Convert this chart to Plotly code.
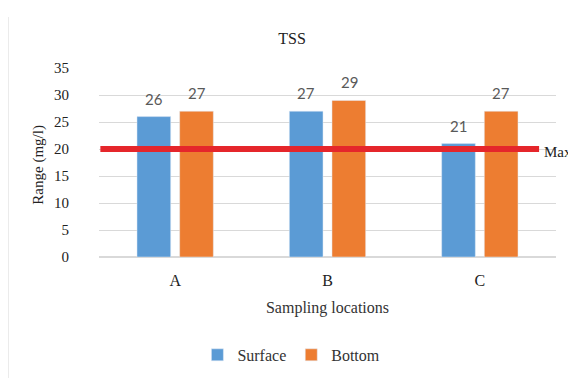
import plotly.graph_objects as go

locations = ["A", "B", "C"]
surface = [26, 27, 21]
bottom = [27, 29, 27]
max_limit = 20
y_ticks = [0, 5, 10, 15, 20, 25, 30, 35]

serif = "Liberation Serif, Times New Roman, serif"
sans = "Lato, Carlito, Liberation Sans, sans-serif"

fig = go.Figure()
fig.add_trace(go.Bar(x=locations, y=surface, name="Surface", marker_color="#5b9bd5"))
fig.add_trace(go.Bar(x=locations, y=bottom, name="Bottom", marker_color="#ed7d31"))

# data labels above the bars (offset to the two bars of each group)
for vals, shift in ((surface, -21.5), (bottom, 21.5)):
    for loc, v in zip(locations, vals):
        fig.add_annotation(x=loc, y=v, text=str(v), showarrow=False, xshift=shift,
                           yshift=18, yanchor="middle",
                           font=dict(family=sans, size=15, color="#595959"))

fig.add_shape(type="line", xref="paper", yref="y", x0=0.003, x1=0.963,
              y0=max_limit, y1=max_limit, line=dict(color="#e5262b", width=6))
fig.add_annotation(xref="paper", yref="y", x=0.969, y=max_limit, text="Max",
                   showarrow=False, xanchor="left", yanchor="middle", yshift=-3,
                   font=dict(family=serif, size=15, color="#222222"))
fig.add_shape(type="line", xref="paper", yref="paper", x0=-0.199, x1=-0.199,
              y0=-0.66, y1=1.27, line=dict(color="#e6e6e6", width=1.5))
fig.add_annotation(xref="paper", yref="paper", x=-0.132, y=0.487, text="Range (mg/l)",
                   textangle=-90, showarrow=False, xanchor="center", yanchor="middle",
                   font=dict(family=serif, size=15, color="#222222"))

fig.update_layout(
    width=568, height=370,
    margin=dict(l=91, r=20, t=60, b=121, autoexpand=False),
    paper_bgcolor="white", plot_bgcolor="white",
    barmode="group", bargap=0.44, bargroupgap=0.21,
    title=dict(text="TSS", x=0.5, xanchor="center", y=0.919, yanchor="middle",
               font=dict(family=serif, size=16, color="#222222")),
    showlegend=True,
    legend=dict(orientation="h", x=0.421, xanchor="center", y=-0.518, yanchor="middle",
                font=dict(family=serif, size=16, color="#333333"),
                itemwidth=30, tracegroupgap=0),
    xaxis=dict(showgrid=False, showline=False, ticks="", automargin=False,
               tickfont=dict(family=serif, size=16, color="#222222"),
               ticklabelstandoff=12,
               title=dict(text="Sampling locations", standoff=13,
                          font=dict(family=serif, size=16, color="#333333"))),
    yaxis=dict(range=[0, 35], tickvals=y_ticks, showgrid=True, gridcolor="#d9d9d9",
               gridwidth=1, zeroline=True, zerolinecolor="#d9d9d9", showline=False,
               ticks="", ticklabelstandoff=29, automargin=False,
               tickfont=dict(family=serif, size=15, color="#222222")),
)

fig.write_html("out.html")
